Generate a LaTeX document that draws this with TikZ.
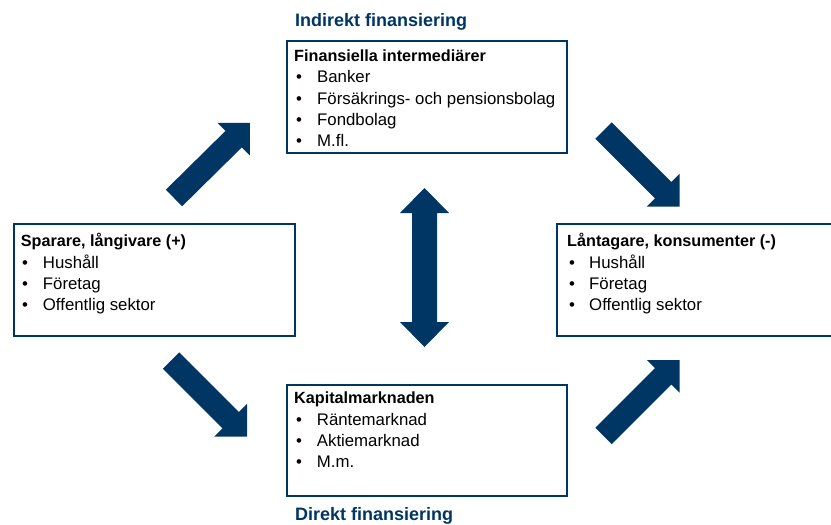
\documentclass[tikz,border=0pt]{standalone}
\usepackage{fontspec}
\setmainfont{Liberation Sans}
\usetikzlibrary{calc}
\definecolor{navy}{RGB}{0,54,99}
\tikzset{
  box/.style={draw=navy, line width=2.4pt, rectangle, inner sep=0pt, anchor=north west},
  hd/.style={anchor=base west, inner sep=0pt, text=navy, font=\fontsize{18}{21}\selectfont\bfseries},
  ttl/.style={anchor=base west, inner sep=0pt, font=\fontsize{16.2}{19}\selectfont\bfseries},
  itm/.style={anchor=base west, inner sep=0pt, font=\fontsize{16.8}{20}\selectfont},
  arrowfill/.style={fill=navy, draw=none},
}
\newcommand\blockarrow[2]{%
  \coordinate (ba-c) at ($(#2)!23pt!(#1)$);
  \fill[arrowfill] ($(#1)!11.6pt!90:(#2)$) -- ($(ba-c)!11.6pt!90:(#2)$) -- ($(ba-c)!23pt!90:(#2)$) -- (#2)
    -- ($(ba-c)!23pt!-90:(#2)$) -- ($(ba-c)!11.6pt!-90:(#2)$) -- ($(#1)!11.6pt!-90:(#2)$) -- cycle;}
\begin{document}
\begin{tikzpicture}[x=1pt,y=-1pt]
\useasboundingbox (0,0) rectangle (831,525);
\fill[white] (0,0) rectangle (831,525);

% boxes
\node[box, minimum width=280pt, minimum height=112pt] (top) at (286,40) {};
\node[box, minimum width=280pt, minimum height=111pt] (bottom) at (286,384) {};
\node[box, minimum width=281pt, minimum height=112pt] (left) at (13,223) {};
\node[box, minimum width=290pt, minimum height=112pt] (right) at (556,223) {};

% headings
\node[hd] (hdtop) at (295,26.7) {Indirekt finansiering};
\node[hd] (hdbot) at (295,520) {Direkt finansiering};

% top box text
\node[ttl] (t0) at (294,61) {Finansiella intermediärer};
\node[itm] (tb1) at (296,82.7) {•}; \node[itm] (t1) at (317,82.7) {Banker};
\node[itm] (tb2) at (296,104) {•}; \node[itm] (t2) at (317,104) {Försäkrings- och pensionsbolag};
\node[itm] (tb3) at (296,125.3) {•}; \node[itm] (t3) at (317,125.3) {Fondbolag};
\node[itm] (tb4) at (296,146.7) {•}; \node[itm] (t4) at (317,146.7) {M.fl.};

% left box text
\node[ttl] (l0) at (20.7,246.7) {Sparare, långivare (+)};
\node[itm] (lb1) at (22,268) {•}; \node[itm] (l1) at (42.7,268) {Hushåll};
\node[itm] (lb2) at (22,289.3) {•}; \node[itm] (l2) at (42.7,289.3) {Företag};
\node[itm] (lb3) at (22,310.7) {•}; \node[itm] (l3) at (42.7,310.7) {Offentlig sektor};

% right box text
\node[ttl] (r0) at (567,246.7) {Låntagare, konsumenter (-)};
\node[itm] (rb1) at (569,268) {•}; \node[itm] (r1) at (589,268) {Hushåll};
\node[itm] (rb2) at (569,289.3) {•}; \node[itm] (r2) at (589,289.3) {Företag};
\node[itm] (rb3) at (569,310.7) {•}; \node[itm] (r3) at (589,310.7) {Offentlig sektor};

% bottom box text
\node[ttl] (b0) at (294,403.5) {Kapitalmarknaden};
\node[itm] (bb1) at (296,425) {•}; \node[itm] (b1) at (316.7,425) {Räntemarknad};
\node[itm] (bb2) at (296,446.3) {•}; \node[itm] (b2) at (316.7,446.3) {Aktiemarknad};
\node[itm] (bb3) at (296,467.7) {•}; \node[itm] (b3) at (316.7,467.7) {M.m.};

% arrow end points
\coordinate (a1s) at (174,198);   \coordinate (a1e) at (250,123);
\coordinate (a2s) at (603.5,130.5); \coordinate (a2e) at (679.5,206.5);
\coordinate (a3s) at (171,360.5); \coordinate (a3e) at (247,436.5);
\coordinate (a4s) at (603.5,436); \coordinate (a4e) at (679.5,360);
\blockarrow{a1s}{a1e}
\blockarrow{a2s}{a2e}
\blockarrow{a3s}{a3e}
\blockarrow{a4s}{a4e}

% vertical double arrow
\coordinate (vt) at (424.5,188); \coordinate (vb) at (424.5,347);
\fill[arrowfill] (vt) -- ($(vt)+(24.5,25)$) -- ($(vt)+(12.5,25)$) -- ($(vb)+(12.5,-25)$) -- ($(vb)+(24.5,-25)$)
  -- (vb) -- ($(vb)+(-24.5,-25)$) -- ($(vb)+(-12.5,-25)$) -- ($(vt)+(-12.5,25)$) -- ($(vt)+(-24.5,25)$) -- cycle;
\end{tikzpicture}
\end{document}
